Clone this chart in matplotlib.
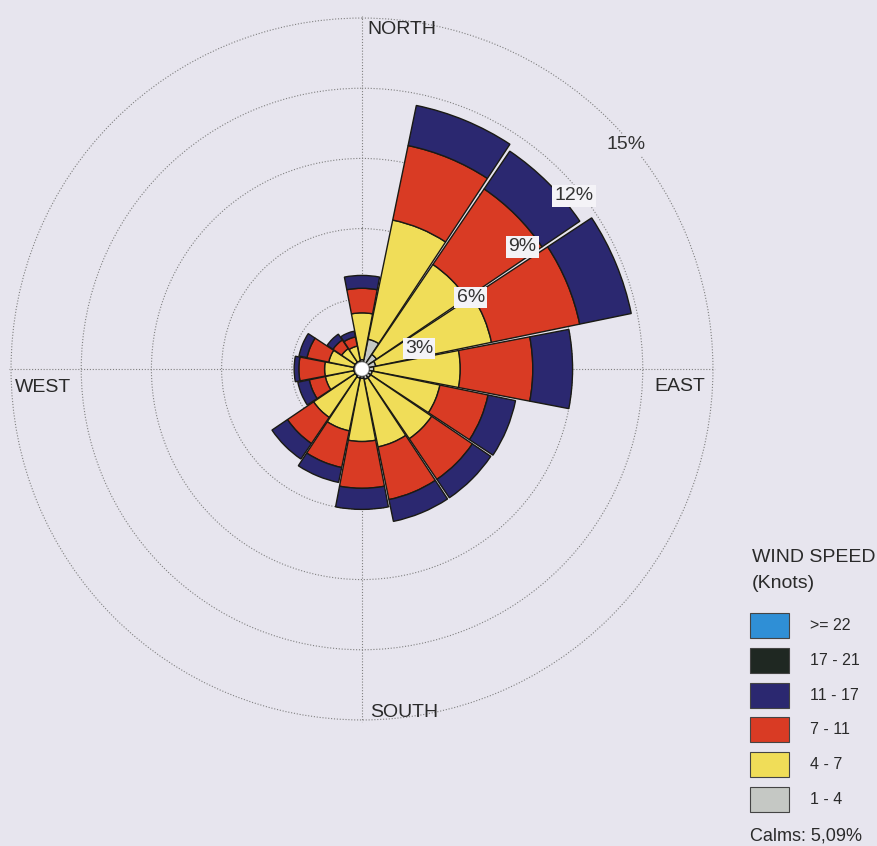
import numpy as np
import matplotlib.pyplot as plt
from matplotlib.patches import Rectangle

plt.rcParams['font.family'] = ['Liberation Sans', 'DejaVu Sans']

# wind rose data, % of time per direction and speed class
directions = ['N', 'NNE', 'NE', 'ENE', 'E', 'ESE', 'SE', 'SSE',
              'S', 'SSW', 'SW', 'WSW', 'W', 'WNW', 'NW', 'NNW']
freq_1_4 = [0.10, 1.00, 0.45, 0.30, 0.20, 0.15, 0.15, 0.15,
            0.10, 0.10, 0.05, 0.05, 0.05, 0.05, 0.05, 0.05]
freq_4_7 = [2.00, 5.20, 4.65, 5.05, 3.70, 2.95, 3.15, 2.95,
            2.70, 2.30, 2.15, 1.25, 1.25, 1.10, 0.70, 0.65]
freq_7_11 = [1.05, 3.25, 3.90, 3.85, 3.10, 2.10, 2.10, 2.30,
             2.00, 1.60, 1.35, 0.70, 1.10, 0.95, 0.45, 0.40]
freq_11_17 = [0.55, 1.75, 1.95, 2.25, 1.70, 1.20, 0.95, 0.95,
              0.90, 0.65, 0.80, 0.50, 0.20, 0.35, 0.30, 0.25]
freq_17_21 = [0.0] * 16
freq_22 = [0.0] * 16

speed_labels = ['>= 22', '17 - 21', '11 - 17', '7 - 11', '4 - 7', '1 - 4']
calms_text = 'Calms: 5,09%'
rings = [3, 6, 9, 12, 15]
cardinals = ['NORTH', 'EAST', 'SOUTH', 'WEST']

colors = {'>= 22': '#2f8fd6', '17 - 21': '#1f2822', '11 - 17': '#2b2870',
          '7 - 11': '#d93b24', '4 - 7': '#f0dd58', '1 - 4': '#c5c8c4'}
bg = '#e7e5ee'

W, H = 877, 846
fig = plt.figure(figsize=(W / 100, H / 100), dpi=100)
fig.patch.set_facecolor(bg)


def px(x, y):
    return x / W, 1 - y / H


cx, cy, R = 362, 369, 353.3
ax = fig.add_axes([(cx - R) / W, (H - cy - R) / H, 2 * R / W, 2 * R / H],
                  projection='polar')
ax.set_facecolor('none')
ax.set_theta_zero_location('N')
ax.set_theta_direction(-1)
ax.set_ylim(0, 15.1)
ax.spines['polar'].set_visible(False)
ax.set_xticks(np.radians([0, 90, 180, 270]))
ax.set_xticklabels([])
ax.set_yticks(rings)
ax.set_yticklabels([])
ax.tick_params(length=0)
ax.grid(True, color='#808080', linestyle=(0, (1, 1.6)), linewidth=0.8)
ax.set_axisbelow(True)

hole = 0.3
theta = np.radians(np.arange(len(directions)) * 22.5)
width = np.radians(22.5 - 0.8)
bottom = np.full(len(directions), hole)
series = [('1 - 4', freq_1_4), ('4 - 7', freq_4_7), ('7 - 11', freq_7_11),
          ('11 - 17', freq_11_17), ('17 - 21', freq_17_21), ('>= 22', freq_22)]
for name, vals in series:
    vals = np.array(vals)
    if vals.sum() == 0:
        continue
    ax.bar(theta, vals, width=width, bottom=bottom, color=colors[name],
           edgecolor='#1a1a14', linewidth=1.0, zorder=3)
    bottom = bottom + vals

t = np.linspace(0, 2 * np.pi, 200)
ax.fill(t, np.full_like(t, hole), color='white', ec='#999999', lw=0.6, zorder=4)

# ring labels along a diagonal
for k, r in enumerate(rings):
    x, y = px(419 + 51.7 * k, 348.5 - 50.9 * k)
    box = '#f4f3f7' if r < 15 else bg
    fig.text(x, y, f'{r}%', fontsize=14, color='#333333', ha='center', va='center',
             bbox=dict(boxstyle='square,pad=0.12', fc=box, ec='none'),
             zorder=10)

# compass labels
card_pos = {'NORTH': (402, 29), 'EAST': (680, 386), 'SOUTH': (404, 712), 'WEST': (43, 387)}
for name in cardinals:
    x, y = px(*card_pos[name])
    fig.text(x, y, name, fontsize=14, color='#2a2a2a', ha='center', va='center')

# legend
x, y = px(752, 558)
fig.text(x, y, 'WIND SPEED', fontsize=14, color='#2a2a2a', va='center')
x, y = px(752, 583)
fig.text(x, y, '(Knots)', fontsize=14, color='#2a2a2a', va='center')
for i, lab in enumerate(speed_labels):
    top = 613 + 34.8 * i
    x0, y0 = px(750, top + 25)
    fig.patches.append(Rectangle((x0, y0), 39 / W, 25 / H, transform=fig.transFigure,
                                 fc=colors[lab], ec='#444444', lw=0.8))
    x, y = px(810, top + 12.5)
    fig.text(x, y, lab, fontsize=11.5, color='#2a2a2a', va='center')
x, y = px(750, 836)
fig.text(x, y, calms_text, fontsize=13, color='#2a2a2a', va='center')

fig.savefig('out.png', dpi=100, facecolor=bg)
